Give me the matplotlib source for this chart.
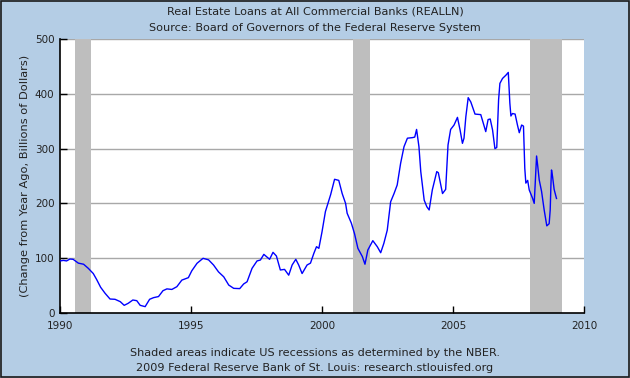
import matplotlib
matplotlib.use('Agg')
import matplotlib.pyplot as plt
from matplotlib.patches import Rectangle

# values (decimal year, billions of dollars)
years = [1990.0, 1990.13, 1990.25, 1990.38, 1990.5, 1990.7, 1990.9, 1991.08, 1991.27,
         1991.4, 1991.55, 1991.72, 1991.91, 1992.1, 1992.3, 1992.45, 1992.6, 1992.78,
         1992.93, 1993.06, 1993.25, 1993.42, 1993.57, 1993.76, 1993.93, 1994.08, 1994.27,
         1994.46, 1994.65, 1994.9, 1995.03, 1995.23, 1995.46, 1995.67, 1995.86, 1996.05,
         1996.25, 1996.44, 1996.63, 1996.86, 1997.01, 1997.14, 1997.33, 1997.52, 1997.65,
         1997.78, 1998.0, 1998.13, 1998.26, 1998.41, 1998.57, 1998.73, 1998.86, 1999.0,
         1999.11, 1999.24, 1999.43, 1999.56, 1999.69, 1999.79, 1999.88, 2000.0, 2000.13,
         2000.33, 2000.48, 2000.64, 2000.77, 2000.9, 2000.96, 2001.12, 2001.24, 2001.37,
         2001.54, 2001.64, 2001.75, 2001.94, 2002.11, 2002.24, 2002.36, 2002.49, 2002.62,
         2002.75, 2002.87, 2003.0, 2003.13, 2003.26, 2003.45, 2003.54, 2003.61, 2003.7,
         2003.77, 2003.9, 2004.0, 2004.09, 2004.21, 2004.38, 2004.44, 2004.6, 2004.72,
         2004.81, 2004.91, 2005.04, 2005.17, 2005.27, 2005.36, 2005.42, 2005.49, 2005.58,
         2005.68, 2005.84, 2006.06, 2006.16, 2006.25, 2006.34, 2006.42, 2006.51, 2006.6,
         2006.67, 2006.74, 2006.79, 2006.89, 2007.02, 2007.11, 2007.17, 2007.21, 2007.27,
         2007.37, 2007.46, 2007.53, 2007.62, 2007.69, 2007.74, 2007.78, 2007.85, 2007.91,
         2008.04, 2008.1, 2008.14, 2008.19, 2008.23, 2008.29, 2008.38, 2008.48, 2008.58,
         2008.67, 2008.71, 2008.74, 2008.76, 2008.8, 2008.86, 2008.95]
loans = [95, 96, 95, 98.5, 98, 91, 89, 81.5, 72,
         61, 47, 36, 25.5, 25, 20.7, 14, 17.6, 23.7,
         22.5, 14, 11.6, 25, 28, 30, 40.7, 44, 43,
         48, 60, 64.5, 77, 90.7, 99.8, 97, 87.6, 75,
         66, 51, 45, 44.5, 53, 57, 81.5, 95, 96.7,
         107, 98, 110.7, 104, 78.5, 79.6, 69, 87.6, 98,
         87.6, 72, 87.6, 91, 109, 121, 118, 148, 185,
         216, 244, 242, 218, 200, 182, 164, 145, 118,
         103, 89, 115, 132, 121, 110, 127, 151, 203,
         218, 233.6, 273, 303.5, 319, 320, 321, 335, 303.5,
         258, 206, 194, 188, 224.5, 258, 256, 218, 225.6,
         306.6, 335, 343, 357, 334, 309.6, 319, 358, 393,
         385, 363, 362, 346, 331, 353, 354, 334, 300,
         302, 389, 419, 428, 434, 439, 383, 359.5, 364,
         363, 343, 329, 343, 341, 264, 237, 242, 224.5,
         209, 200, 237, 286.5, 270, 243, 222, 188, 159,
         163, 188, 237, 261, 249, 225.6, 209]

rec_start = [1990.58, 2001.17, 2007.92]
rec_end = [1991.17, 2001.83, 2009.16]

xticks = [1990, 1995, 2000, 2005, 2010]
yticks = [0, 100, 200, 300, 400, 500]

bg = '#B4CDE5'
txt = '#222222'
fig = plt.figure(figsize=(6.3, 3.78), dpi=100, facecolor=bg)
ax = fig.add_axes([60/630, 1-313/378, 524/630, 274/378])
ax.set_facecolor('white')

for s, e in zip(rec_start, rec_end):
    ax.axvspan(s, e, color='#BEBEBE', lw=0, zorder=1)
for v in yticks[1:]:
    ax.axhline(v, color='#A8A8A8', lw=1, zorder=0.5)

ax.plot(years, loans, color='#0000FF', lw=1, zorder=3)

ax.set_xlim(1990, 2010)
ax.set_ylim(0, 500)
ax.set_xticks(xticks)
ax.set_yticks(yticks)
ax.tick_params(direction='in', length=5, width=1, labelsize=7.5, pad=4, labelcolor=txt)
ax.tick_params(axis='x', pad=6)
for sp in ['top', 'right']:
    ax.spines[sp].set_visible(False)
for sp in ['left', 'bottom']:
    ax.spines[sp].set_linewidth(1.2)

ax.set_ylabel('(Change from Year Ago, Billions of Dollars)', fontsize=8.2, color=txt)
ax.yaxis.set_label_coords(-0.058, 0.5)

fig.text(0.5, 1-11/378, 'Real Estate Loans at All Commercial Banks (REALLN)',
         ha='center', va='center', fontsize=8.1, color=txt)
fig.text(0.5, 1-28/378, 'Source: Board of Governors of the Federal Reserve System',
         ha='center', va='center', fontsize=8.1, color=txt)
fig.text(0.5, 1-353/378, 'Shaded areas indicate US recessions as determined by the NBER.',
         ha='center', va='center', fontsize=8.1, color=txt)
fig.text(0.5, 1-368/378, '2009 Federal Reserve Bank of St. Louis: research.stlouisfed.org',
         ha='center', va='center', fontsize=8.1, color=txt)

fig.patches.append(Rectangle((0.001, 0.002), 0.997, 0.996, transform=fig.transFigure,
                             fill=False, edgecolor='#1a1a1a', lw=1.2))

fig.savefig('out.png', dpi=100, facecolor=bg)
